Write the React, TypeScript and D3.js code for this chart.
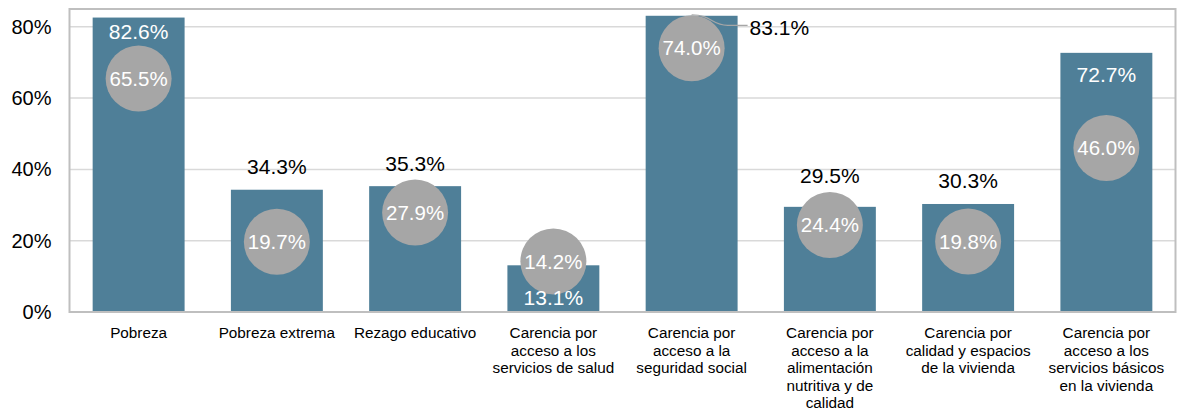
import React, { useEffect, useRef } from 'react';
import * as d3 from 'd3';

// categories (line breaks as in the original axis)
const categories = [
  'Pobreza',
  'Pobreza extrema',
  'Rezago educativo',
  'Carencia por\nacceso a los\nservicios de salud',
  'Carencia por\nacceso a la\nseguridad social',
  'Carencia por\nacceso a la\nalimentación\nnutritiva y de\ncalidad',
  'Carencia por\ncalidad y espacios\nde la vivienda',
  'Carencia por\nacceso a los\nservicios básicos\nen la vivienda',
];

// bars
const barValues = [82.6, 34.3, 35.3, 13.1, 83.1, 29.5, 30.3, 72.7];
// grey circles
const circleValues = [65.5, 19.7, 27.9, 14.2, 74.0, 24.4, 19.8, 46.0];
// where the bar value label sits
const barLabelMode = ['inside', 'above', 'above', 'inside', 'callout', 'above', 'above', 'inside'];

const yTicks = [0, 20, 40, 60, 80];

const W = 1177;
const H = 410;
const FONT = '"Liberation Sans", Arial, sans-serif';

const App = () => {
  const ref = useRef<SVGSVGElement | null>(null);

  useEffect(() => {
    const margin = { top: 9, right: 1.5, bottom: 98, left: 69.5 };
    const width = W - margin.left - margin.right;
    const height = H - margin.top - margin.bottom;
    const r = 33;
    const fmt = (v: number) => v.toFixed(1) + '%';

    const root = d3.select(ref.current);
    root.selectAll('*').remove();
    const svg = root.append('g').attr('transform', `translate(${margin.left},${margin.top})`);

    const x = d3
      .scaleBand()
      .domain(categories)
      .range([0, width])
      .paddingInner(0.335)
      .paddingOuter(0.1675);

    const y = d3.scaleLinear().domain([0, 85]).range([height, 0]);

    // gridlines
    svg
      .selectAll('.grid')
      .data(yTicks.filter((t) => t > 0))
      .enter()
      .append('line')
      .attr('x1', 0)
      .attr('x2', width)
      .attr('y1', (d) => y(d))
      .attr('y2', (d) => y(d))
      .attr('stroke', '#d9d9d9')
      .attr('stroke-width', 1.5);

    // y tick labels
    svg
      .selectAll('.ytick')
      .data(yTicks)
      .enter()
      .append('text')
      .attr('x', -18)
      .attr('y', (d) => y(d))
      .attr('dy', '0.35em')
      .attr('text-anchor', 'end')
      .attr('font-family', FONT)
      .attr('font-size', 20)
      .attr('fill', '#000')
      .text((d) => d + '%');

    // bars
    svg
      .selectAll('.bar')
      .data(barValues)
      .enter()
      .append('rect')
      .attr('x', (_, i) => x(categories[i])!)
      .attr('y', (d) => y(d))
      .attr('width', x.bandwidth())
      .attr('height', (d) => height - y(d))
      .attr('fill', '#4f7f98');

    // frame
    svg
      .append('rect')
      .attr('x', 0)
      .attr('y', 0)
      .attr('width', width)
      .attr('height', height)
      .attr('fill', 'none')
      .attr('stroke', '#bfbfbf')
      .attr('stroke-width', 2);

    // circles
    const cx = (i: number) => x(categories[i])! + x.bandwidth() / 2;
    svg
      .selectAll('.dot')
      .data(circleValues)
      .enter()
      .append('circle')
      .attr('cx', (_, i) => cx(i))
      .attr('cy', (d) => y(d))
      .attr('r', r)
      .attr('fill', '#a6a6a6');

    svg
      .selectAll('.dotlabel')
      .data(circleValues)
      .enter()
      .append('text')
      .attr('x', (_, i) => cx(i))
      .attr('y', (d) => y(d))
      .attr('dy', '0.35em')
      .attr('text-anchor', 'middle')
      .attr('font-family', FONT)
      .attr('font-size', 20.5)
      .attr('fill', '#fff')
      .text((d) => fmt(d));

    // bar value labels
    barValues.forEach((v, i) => {
      const top = y(v);
      const cTop = y(circleValues[i]) - r;
      const cBot = y(circleValues[i]) + r;
      const mode = barLabelMode[i];
      if (mode === 'callout') {
        const lx = x(categories[i])! + x.bandwidth() + 12;
        const ly = y(80) + 0.5;
        svg
          .append('path')
          .attr('d', `M${cx(i)},${top - 1} C${cx(i) + 20},${top - 1} ${cx(i) + 20},${ly - 2} ${lx - 22},${ly - 2} L${lx - 2},${ly - 2}`)
          .attr('fill', 'none')
          .attr('stroke', '#a6a6a6')
          .attr('stroke-width', 1.2);
        svg
          .append('text')
          .attr('x', lx)
          .attr('y', ly)
          .attr('dy', '0.35em')
          .attr('font-family', FONT)
          .attr('font-size', 21)
          .attr('fill', '#000')
          .text(fmt(v));
        return;
      }
      let cyText: number;
      let fill = '#000';
      if (mode === 'above') {
        cyText = Math.min(top - 23, cTop - 16);
      } else {
        fill = '#fff';
        cyText = top + 22;
        if (y(circleValues[i]) > cyText) cyText = Math.min(cyText, cTop - 14);
        else cyText = Math.max(cyText, cBot + 3);
      }
      svg
        .append('text')
        .attr('x', cx(i))
        .attr('y', cyText)
        .attr('dy', '0.35em')
        .attr('text-anchor', 'middle')
        .attr('font-family', FONT)
        .attr('font-size', 21)
        .attr('fill', fill)
        .text(fmt(v));
    });

    // x category labels
    const xl = svg
      .selectAll('.xlabel')
      .data(categories)
      .enter()
      .append('text')
      .attr('x', (_, i) => cx(i))
      .attr('y', height + 26)
      .attr('text-anchor', 'middle')
      .attr('font-family', FONT)
      .attr('font-size', 15.3)
      .attr('fill', '#000');
    xl.each(function (d) {
      const t = d3.select(this);
      d.split('\n').forEach((line, k) => {
        t.append('tspan')
          .attr('x', t.attr('x'))
          .attr('dy', k === 0 ? 0 : 17.6)
          .text(line);
      });
    });
  }, []);

  return (
    <svg
      ref={ref}
      width={W}
      height={H}
      style={{ position: 'absolute', left: 0, top: 0, background: '#fff' }}
    />
  );
};

export default App;
